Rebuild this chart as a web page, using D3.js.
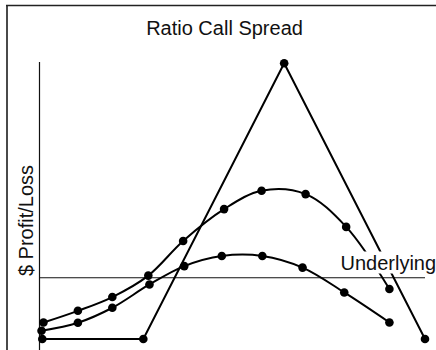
<!DOCTYPE html>
<html>
<head>
<meta charset="utf-8">
<script src="https://cdn.jsdelivr.net/npm/d3@7/dist/d3.min.js"></script>
<style>
  html, body { margin: 0; padding: 0; background: #fff; }
  svg { display: block; }
  text { font-family: "Liberation Sans", Arial, Helvetica, sans-serif; fill: #111; }
</style>
</head>
<body>
<svg id="chart" width="436" height="350"></svg>
<script>
// Underlying price (x) and profit/loss (y) for each strategy curve
const expiryPrice = [0, 26.4, 63.2, 100];
const expiryPL    = [-10, -10, 35, -10];

const midPrice = [0.3, 9.3, 18.3, 27.7, 36.8, 47.5, 57.3, 68.8, 79.4, 90.7];
const midPL    = [-7.3, -5.4, -3.15, 0.35, 6.0, 11.2, 14.2, 13.65, 8.3, -1.85];

const earlyPrice = [-0.2, 9.3, 18.3, 28.0, 37.1, 46.9, 57.5, 68.0, 78.9, 90.7];
const earlyPL    = [-8.65, -7.35, -4.9, -1.1, 1.9, 3.55, 3.55, 1.65, -2.4, -7.3];

const titleText = "Ratio Call Spread";
const yLabelText = "$ Profit/Loss";
const baselineLabel = "Underlying";

const svg = d3.select("#chart");

const x = d3.scaleLinear().domain([0, 100]).range([42.3, 425]);
const y = d3.scaleLinear().domain([-10, 35]).range([339, 63.3]);

// outer frame
svg.append("line").attr("x1", 7).attr("x2", 7).attr("y1", 5).attr("y2", 350)
  .attr("stroke", "#4a4a4a").attr("stroke-width", 2);
svg.append("line").attr("x1", 6).attr("x2", 436).attr("y1", 5.5).attr("y2", 5.5)
  .attr("stroke", "#222").attr("stroke-width", 1.5);

// title
svg.append("text").attr("x", 224.5).attr("y", 34.5)
  .attr("text-anchor", "middle").attr("font-size", 20).text(titleText);

// vertical axis line
svg.append("line").attr("x1", 39.5).attr("x2", 39.5).attr("y1", 62).attr("y2", 350)
  .attr("stroke", "#111").attr("stroke-width", 1.2);

// zero P/L line
svg.append("line").attr("x1", 39).attr("x2", x(100)).attr("y1", y(0)).attr("y2", y(0))
  .attr("stroke", "#111").attr("stroke-width", 1.2);

// y label
svg.append("text")
  .attr("transform", "translate(32.5,220.5) rotate(-90)")
  .attr("text-anchor", "middle").attr("font-size", 20).text(yLabelText);

const series = [
  { px: expiryPrice, pl: expiryPL, curve: d3.curveLinear },
  { px: midPrice, pl: midPL, curve: d3.curveCatmullRom.alpha(0.5) },
  { px: earlyPrice, pl: earlyPL, curve: d3.curveCatmullRom.alpha(0.5) }
];

series.forEach(s => {
  const pts = s.px.map((p, i) => [p, s.pl[i]]);
  const line = d3.line().x(d => x(d[0])).y(d => y(d[1])).curve(s.curve);
  svg.append("path").attr("d", line(pts))
    .attr("fill", "none").attr("stroke", "#000").attr("stroke-width", 2);
  svg.selectAll(null).data(pts).enter().append("circle")
    .attr("cx", d => x(d[0])).attr("cy", d => y(d[1])).attr("r", 4.3)
    .attr("fill", "#000");
});

// label for the zero line, on a white backing
const lbl = svg.append("g");
const bg = lbl.append("rect").attr("fill", "#fff");
const t = lbl.append("text").attr("x", 340.5).attr("y", 269.5)
  .attr("font-size", 20).text(baselineLabel);
const bb = t.node().getBBox();
bg.attr("x", bb.x - 2).attr("y", bb.y).attr("width", bb.width + 4).attr("height", bb.height);
</script>
</body>
</html>
